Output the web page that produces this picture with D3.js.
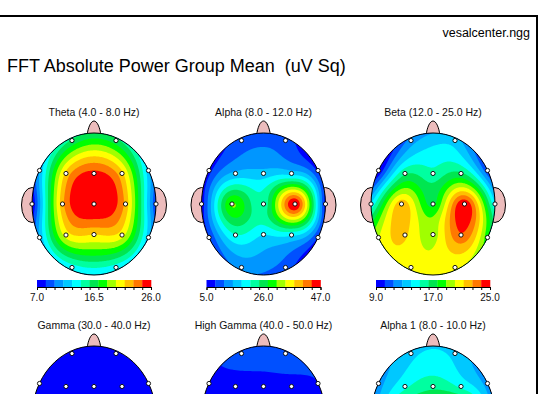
<!DOCTYPE html>
<html>
<head>
<meta charset="utf-8">
<script src="https://cdn.jsdelivr.net/npm/d3@7"></script>
<style>
body { margin: 0; background: #fff; }
svg { display: block; font-family: "Liberation Sans", Arial, sans-serif; }
</style>
</head>
<body>
<svg id="chart" width="558" height="394"></svg>
<script>
// electrode order used by every band array below
const electrodes = ["Fp1", "Fp2", "F7", "F3", "Fz", "F4", "F8", "T3", "C3", "Cz", "C4", "T4", "T5", "P3", "Pz", "P4", "T6", "O1", "O2"];

const bandNames = ["Theta (4.0 - 8.0 Hz)", "Alpha (8.0 - 12.0 Hz)", "Beta (12.0 - 25.0 Hz)",
                   "Gamma (30.0 - 40.0 Hz)", "High Gamma (40.0 - 50.0 Hz)", "Alpha 1 (8.0 - 10.0 Hz)"];

// colour bar ends (uV Sq)
const scaleMin = [7.0, 5.0, 9.0, 0.5, 0.3, 4.0];
const scaleMax = [26.0, 47.0, 25.0, 5.0, 3.0, 30.0];

// group mean power per electrode
const thetaValues     = [16.0, 16.3, 11.5, 22.0, 25.0, 22.0, 12.0, 7.0, 22.6, 26.0, 22.6, 8.5, 11.5, 20.8, 21.6, 20.8, 12.0, 13.5, 13.5];
const alphaValues     = [10.0, 10.0, 7.0, 15.5, 16.0, 16.5, 7.5, 6.0, 31.0, 22.0, 47.0, 6.5, 8.0, 21.0, 18.0, 18.5, 8.0, 12.5, 10.0];
const betaValues      = [12.0, 13.3, 9.0, 16.2, 15.5, 16.6, 10.5, 14.0, 22.0, 17.3, 24.8, 14.0, 20.0, 21.5, 19.5, 23.6, 18.0, 20.5, 20.3];
const gammaValues     = [0.7, 0.7, 0.72, 0.6, 0.6, 0.6, 0.72, 0.9, 0.6, 0.55, 0.6, 1.0, 2.0, 0.7, 0.6, 0.7, 5.0, 1.0, 1.2];
const highGammaValues = [0.6, 0.62, 0.45, 0.42, 0.42, 0.45, 0.5, 0.45, 0.4, 0.4, 0.42, 0.6, 0.8, 0.5, 0.5, 0.6, 1.5, 1.2, 3.0];
const alpha1Values    = [11.5, 11.5, 9.0, 13.5, 15.5, 13.5, 9.0, 8.0, 19.0, 21.0, 24.0, 8.5, 10.0, 20.0, 25.0, 30.0, 12.0, 16.0, 18.0];

const bandValues = [thetaValues, alphaValues, betaValues, gammaValues, highGammaValues, alpha1Values];

// 13 step palette of the maps
const palette = ["#0000ff", "#0050ff", "#0096ff", "#00c8ff", "#00ffff", "#00ffa0", "#00e650",
                 "#00ff00", "#a0ff00", "#ffff00", "#ffc000", "#ff7800", "#ff0000"];

// electrode layout on the head, in head radii (x right, y down)
const montage = {
    Fp1: [-0.355, -0.894], Fp2: [0.355, -0.894],
    F7: [-0.879, -0.472], F3: [-0.452, -0.43], Fz: [0, -0.43], F4: [0.452, -0.43], F8: [0.879, -0.472],
    T3: [-1.0, 0], C3: [-0.508, 0], Cz: [0, 0], C4: [0.508, 0], T4: [1.0, 0],
    T5: [-0.879, 0.472], P3: [-0.452, 0.437], Pz: [0, 0.43], P4: [0.452, 0.437], T6: [0.879, 0.472],
    O1: [-0.355, 0.894], O2: [0.355, 0.894]
};

const rx = 62, ry = 71;
const colX = [94, 263.5, 433];
const rowY = [204, 417];
const skin = "#ecbcbc";
const pageH = 394;

//solve a small dense linear system (gaussian elimination)
function solve(A, b) {
    let n = b.length;
    for (let c = 0; c < n; c++) {
        let p = c;
        for (let r = c + 1; r < n; r++) if (Math.abs(A[r][c]) > Math.abs(A[p][c])) p = r;
        [A[c], A[p]] = [A[p], A[c]];
        [b[c], b[p]] = [b[p], b[c]];
        for (let r = c + 1; r < n; r++) {
            let f = A[r][c] / A[c][c];
            for (let k = c; k < n; k++) A[r][k] -= f * A[c][k];
            b[r] -= f * b[c];
        }
    }
    let x = new Array(n);
    for (let r = n - 1; r >= 0; r--) {
        let s = b[r];
        for (let k = r + 1; k < n; k++) s -= A[r][k] * x[k];
        x[r] = s / A[r][r];
    }
    return x;
}

//thin plate spline through the electrode values
function thinPlate(pts, vals) {
    let n = pts.length, m = n + 3;
    let U = r => r > 0 ? r * r * Math.log(r) : 0;
    let A = d3.range(m).map(() => new Array(m).fill(0));
    let rhs = new Array(m).fill(0);
    for (let i = 0; i < n; i++) {
        for (let j = 0; j < n; j++) {
            A[i][j] = U(Math.hypot(pts[i][0] - pts[j][0], pts[i][1] - pts[j][1]));
        }
        A[i][n] = A[n][i] = 1;
        A[i][n + 1] = A[n + 1][i] = pts[i][0];
        A[i][n + 2] = A[n + 2][i] = pts[i][1];
        rhs[i] = vals[i];
    }
    let w = solve(A, rhs);
    return (x, y) => {
        let s = w[n] + w[n + 1] * x + w[n + 2] * y;
        for (let i = 0; i < n; i++) s += w[i] * U(Math.hypot(x - pts[i][0], y - pts[i][1]));
        return s;
    };
}

let svg = d3.select("#chart");

//page frame
svg.append("path")
    .attr("d", "M-2,16H537V400")
    .attr("fill", "none")
    .attr("stroke", "#000")
    .attr("stroke-width", 2);

svg.append("text")
    .attr("x", 530)
    .attr("y", 37)
    .attr("text-anchor", "end")
    .attr("font-size", "12.5px")
    .text("vesalcenter.ngg");

svg.append("text")
    .attr("x", 7)
    .attr("y", 72)
    .attr("font-size", "18px")
    .text("FFT Absolute Power Group Mean\u00a0 (uV Sq)");

bandValues.forEach((vals, b) => {
    let cx = colX[b % 3], cy = rowY[Math.floor(b / 3)];
    let lo = scaleMin[b], hi = scaleMax[b];
    let nLevels = palette.length;
    let step = (hi - lo) / nLevels;
    let g = svg.append("g");

    g.append("text")
        .attr("x", cx)
        .attr("y", cy - 88)
        .attr("text-anchor", "middle")
        .attr("font-size", "10.5px")
        .attr("fill", "#111")
        .text(bandNames[b]);

    //ears and nose behind the scalp
    g.selectAll(".ear")
        .data([-1, 1])
        .join("ellipse")
        .attr("cx", s => cx + s * rx)
        .attr("cy", cy + 1)
        .attr("rx", 10.5)
        .attr("ry", 17.5)
        .attr("fill", skin)
        .attr("stroke", "#000");

    let top = cy - ry;
    g.append("path")
        .attr("d", `M${cx - 7},${top + 3} C${cx - 6},${top - 6} ${cx - 3},${top - 12} ${cx},${top - 12}
                    C${cx + 3},${top - 12} ${cx + 6},${top - 6} ${cx + 7},${top + 3} Z`)
        .attr("fill", skin)
        .attr("stroke", "#000");

    //interpolate the electrodes on a pixel grid
    let pts = electrodes.map(e => [montage[e][0] * rx / 100, montage[e][1] * ry / 100]);
    let f = thinPlate(pts, vals);
    let nx = 2 * rx + 2, ny = 2 * ry + 2;
    let grid = new Array(nx * ny);
    for (let j = 0; j < ny; j++) {
        for (let i = 0; i < nx; i++) {
            let v = f((i + 0.5 - rx - 1) / 100, (j + 0.5 - ry - 1) / 100);
            grid[j * nx + i] = Math.max(lo, Math.min(hi - 1e-6, v));
        }
    }

    let thresholds = d3.range(nLevels).map(k => lo + k * step);
    let color = d3.scaleThreshold()
        .domain(thresholds.slice(1))
        .range(palette);

    let contours = d3.contours()
        .size([nx, ny])
        .thresholds(thresholds)(grid);

    g.append("clipPath")
        .attr("id", "head" + b)
        .append("ellipse")
        .attr("cx", cx)
        .attr("cy", cy)
        .attr("rx", rx)
        .attr("ry", ry);

    g.append("g")
        .attr("clip-path", `url(#head${b})`)
        .append("g")
        .attr("transform", `translate(${cx - rx - 1},${cy - ry - 1})`)
        .selectAll("path")
        .data(contours)
        .join("path")
        .attr("d", d3.geoPath())
        .attr("fill", d => color(d.value + step / 2));

    g.append("ellipse")
        .attr("cx", cx)
        .attr("cy", cy)
        .attr("rx", rx)
        .attr("ry", ry)
        .attr("fill", "none")
        .attr("stroke", "#000");

    g.selectAll(".electrode")
        .data(electrodes)
        .join("circle")
        .attr("cx", e => cx + montage[e][0] * rx)
        .attr("cy", e => cy + montage[e][1] * ry)
        .attr("r", 2.1)
        .attr("fill", "#fff")
        .attr("stroke", "#000")
        .attr("stroke-width", 0.9);

    //colour bar (the lower row's bars fall below the page crop)
    if (cy + 100 > pageH) return;

    let xScale = d3.scaleLinear()
        .domain([lo, hi])
        .range([cx - 57, cx + 57]);

    g.selectAll(".bin")
        .data(thresholds)
        .join("rect")
        .attr("x", t => xScale(t))
        .attr("y", cy + 76)
        .attr("width", t => xScale(t + step) - xScale(t) + 0.3)
        .attr("height", 7)
        .attr("fill", t => color(t + step / 2));

    let axis = d3.axisBottom(xScale)
        .tickValues(thresholds.concat([hi]))
        .tickSize(3)
        .tickFormat("");

    g.append("g")
        .attr("transform", `translate(0,${cy + 83})`)
        .call(axis)
        .call(a => a.select(".domain").attr("stroke-width", 1));

    g.selectAll(".lab")
        .data([lo, (lo + hi) / 2, hi])
        .join("text")
        .attr("x", v => xScale(v))
        .attr("y", cy + 97)
        .attr("text-anchor", "middle")
        .attr("font-size", "10px")
        .attr("fill", "#111")
        .text(d3.format(".1f"));
});
</script>
</body>
</html>
